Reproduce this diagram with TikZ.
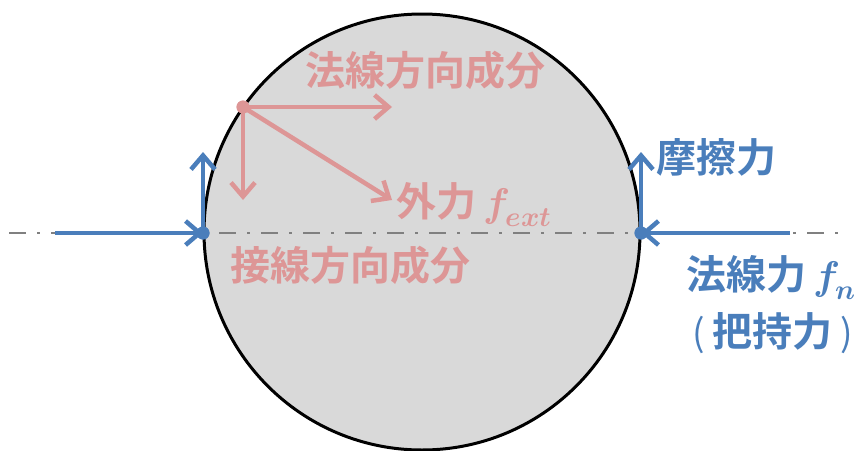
\documentclass[tikz,border=0pt]{standalone}
\usepackage{fontspec}
\usepackage{unicode-math}
\setmathfont{Latin Modern Math}
\newfontfamily\jp{Noto Sans CJK JP Bold}
\newfontfamily\jpthin{Noto Sans CJK JP}
\usetikzlibrary{arrows.meta}
\definecolor{fblue}{RGB}{74,126,187}
\definecolor{fpink}{RGB}{221,150,150}
\definecolor{ballfill}{RGB}{217,217,217}
\newcommand{\parsz}{\jpthin\fontsize{37}{40}\selectfont}
\begin{document}
\begin{tikzpicture}[x=1pt,y=-1pt,
  barb/.style={-{Straight Barb[length=14pt,width=24pt]}},
  bluevec/.style={draw=fblue, line width=4.5pt, barb},
  pinkvec/.style={draw=fpink, line width=4.5pt, barb},
  bdot/.style={circle, fill=fblue, inner sep=0pt, minimum size=13pt},
  pdot/.style={circle, fill=fpink, inner sep=0pt, minimum size=13pt},
  lbl/.style={inner sep=0pt, font=\jp\fontsize{40}{44}\selectfont},
  bluelbl/.style={lbl, text=fblue},
  pinklbl/.style={lbl, text=fpink},
  axis/.style={draw=gray, line width=2pt, dash pattern=on 17pt off 11pt on 3pt off 11pt}
]
\useasboundingbox (0,0) rectangle (856,450);
% ball
\node[circle, draw=black, line width=3pt, fill=ballfill, minimum size=436pt, inner sep=0pt] (ball) at (422,232) {};
% axis
\coordinate (axL) at (9,233);
\coordinate (axR) at (842,233);
\draw[axis] (axL) -- (axR);
% contact points
\node[bdot] (bL) at (203,233) {};
\node[bdot] (bR) at (641,233) {};
\coordinate (inL) at (55,233);
\coordinate (inR) at (790,233);
\coordinate (upL) at (203,152);
\coordinate (upR) at (641,152);
\draw[bluevec] (inL) -- (bL.center);
\draw[bluevec] (bL.center) -- (upL);
\draw[bluevec] (inR) -- (bR.center);
\draw[bluevec] (bR.center) -- (upR);
\node[bdot] at (bL.center) {};
\node[bdot] at (bR.center) {};
% external force
\node[pdot] (p) at (243,107) {};
\coordinate (pN) at (392,107);
\coordinate (pT) at (243,200);
\coordinate (pF) at (392,200);
\draw[pinkvec] (p.center) -- (pN);
\draw[pinkvec] (p.center) -- (pT);
\draw[pinkvec] (p.center) -- (pF);
\node[pdot] at (p.center) {};
% labels
\node[pinklbl] (tN) at (425,70) {法線方向成分};
\node[pinklbl, anchor=west] (tF) at (396,205) {外力\hspace{7pt}$\symbfit{f}_{\symbfit{ext}}$};
\node[pinklbl] (tT) at (350,265) {接線方向成分};
\node[bluelbl, anchor=west] (tFr) at (656,157) {摩擦力};
\node[bluelbl, anchor=west] (tFn) at (686,278) {法線力\hspace{7pt}$\symbfit{f}_{\symbfit{n}}$};
\node[bluelbl, anchor=west] (tG) at (692,333) {{\parsz(}\hspace{8pt}把持力\hspace{8pt}{\parsz)}};
\end{tikzpicture}
\end{document}
